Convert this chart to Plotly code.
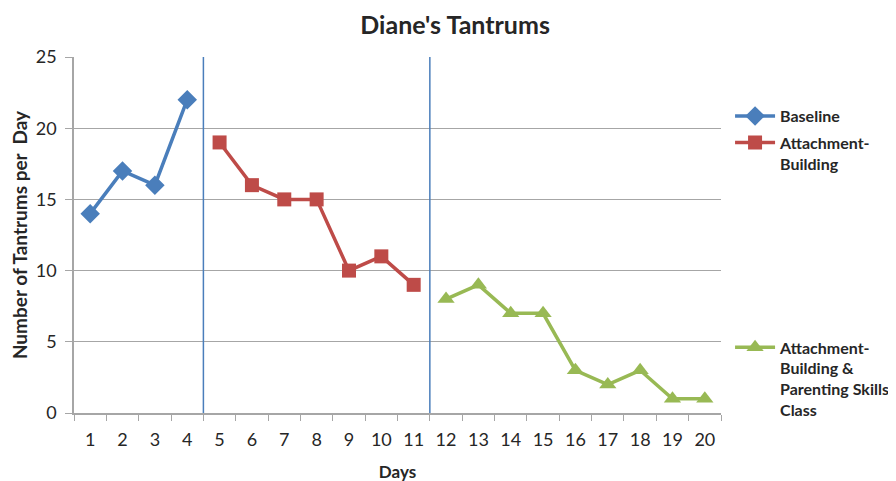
import plotly.graph_objects as go

# Days on the x axis, one value per phase
baseline_days = ["1", "2", "3", "4"]
baseline_counts = [14, 17, 16, 22]

attach_days = ["5", "6", "7", "8", "9", "10", "11"]
attach_counts = [19, 16, 15, 15, 10, 11, 9]

parenting_days = ["12", "13", "14", "15", "16", "17", "18", "19", "20"]
parenting_counts = [8, 9, 7, 7, 3, 2, 3, 1, 1]

all_days = baseline_days + attach_days + parenting_days
y_ticks = [0, 5, 10, 15, 20, 25]

FONT = "Lato, 'Open Sans', sans-serif"
TEXT = "#262626"

fig = go.Figure()

fig.add_trace(go.Scatter(
    x=baseline_days, y=baseline_counts, name="Baseline",
    mode="lines+markers", legend="legend",
    line=dict(color="#4A7EBB", width=3.5),
    marker=dict(symbol="diamond", size=15, color="#4A7EBB"),
))
fig.add_trace(go.Scatter(
    x=attach_days, y=attach_counts, name="Attachment-<br>Building",
    mode="lines+markers", legend="legend2",
    line=dict(color="#BE4B48", width=3.5),
    marker=dict(symbol="square", size=14, color="#BE4B48"),
))
fig.add_trace(go.Scatter(
    x=parenting_days, y=parenting_counts,
    name="Attachment-<br>Building &<br>Parenting Skills<br>Class",
    mode="lines+markers", legend="legend3",
    line=dict(color="#98B954", width=3.5),
    marker=dict(symbol="triangle-up", size=15, color="#98B954"),
))

# Phase change lines between days 4/5 and 11/12
for pos in (3.5, 10.5):
    fig.add_shape(type="line", xref="x", yref="paper", x0=pos, x1=pos,
                  y0=0, y1=1, line=dict(color="#4A7EBB", width=1.5))

legend_style = dict(
    xref="paper", yref="paper", x=1.014, xanchor="left", yanchor="top",
    font=dict(family=FONT, size=16, color=TEXT, weight="bold"),
    bgcolor="rgba(0,0,0,0)", valign="top", itemwidth=40,
)

# the page body adds an 8px offset, so margins are trimmed to compensate
fig.update_layout(
    width=896, height=481,
    margin=dict(l=66, r=183, t=49, b=76, autoexpand=False),
    paper_bgcolor="white", plot_bgcolor="white",
    font=dict(family=FONT, color=TEXT),
    title=dict(text="<b>Diane's Tantrums</b>", x=0.499, xanchor="center",
               y=0.964, yanchor="middle",
               font=dict(family=FONT, size=25, color=TEXT)),
    showlegend=True,
    legend=dict(y=0.882, **legend_style),
    legend2=dict(y=0.807, **legend_style),
    legend3=dict(y=0.232, **legend_style),
    xaxis=dict(
        type="category", categoryorder="array", categoryarray=all_days,
        range=[-0.5, 19.5], tickson="boundaries", ticks="outside",
        ticklen=6, tickcolor="#A6A6A6", showline=True, linecolor="#A6A6A6",
        linewidth=1.5, showgrid=False, zeroline=False, automargin=False,
        tickfont=dict(size=18, color=TEXT), ticklabelstandoff=10,
        title=dict(text="<b>Days</b>", font=dict(size=17, color=TEXT),
                   standoff=17),
    ),
    yaxis=dict(
        range=[0, 25], tickvals=y_ticks, ticks="outside", ticklen=7,
        tickcolor="#A6A6A6", showline=True, linecolor="#A6A6A6",
        linewidth=1.5, showgrid=True, gridcolor="#A6A6A6", gridwidth=1,
        zeroline=False, automargin=False, tickfont=dict(size=18, color=TEXT),
        ticklabelstandoff=5,
        title=dict(text="<b>Number of Tantrums per\u00a0 Day</b>",
                   font=dict(size=19, color=TEXT), standoff=16),
    ),
)

fig.write_html("out.html")
